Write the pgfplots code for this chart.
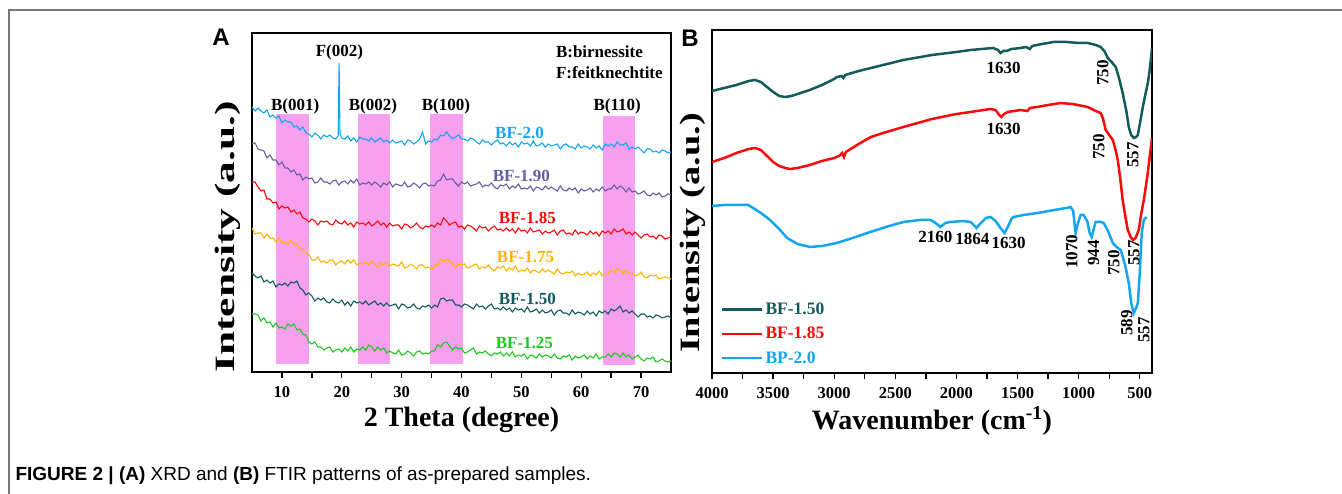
\documentclass[border=0pt]{standalone}
\usepackage{fontspec}
\setmainfont{Liberation Serif}
\newfontfamily\sansfont{Liberation Sans}
\usepackage{graphicx}
\usepackage{pgfplots}
\pgfplotsset{compat=1.18}

\definecolor{cTwo}{RGB}{20,165,240}
\definecolor{cNineteen}{RGB}{100,95,165}
\definecolor{cEightFive}{RGB}{250,10,10}
\definecolor{cSevenFive}{RGB}{255,180,0}
\definecolor{cFifty}{RGB}{20,90,90}
\definecolor{cTwentyFive}{RGB}{30,200,30}
\definecolor{bandpink}{RGB}{248,160,240}
\definecolor{framegray}{RGB}{120,120,120}

\pgfplotsset{
  panel/.style={
    scale only axis, anchor=south west,
    ytick=\empty, tick align=outside, xtick pos=left,
    major tick length=6pt, minor tick length=6pt,
    tick style={black, line width=1.3pt},
    axis line style={line width=1.6pt},
    ticklabel style={font=\bfseries\fontsize{16.5}{18}\selectfont, yshift=-5pt},
    /pgf/number format/assume math mode=true,
    /pgf/number format/1000 sep={},
    label style={font=\bfseries\fontsize{28}{30}\selectfont},
  },
}
\tikzset{fnt/.style={font=\bfseries\fontsize{17}{19}\selectfont}}

\begin{document}
\begin{tikzpicture}[x=1pt,y=1pt]
\path[use as bounding box] (0,0) rectangle (1342,494);
\draw[framegray, line width=1.3pt] (9,0) -- (9,484) -- (1342,484);
\node[anchor=base west, font=\sansfont\fontsize{19}{21}\selectfont] at (12,13)
  {\textbf{FIGURE 2 | (A)} XRD and \textbf{(B)} FTIR patterns of as-prepared samples.};
\node[font=\sansfont\bfseries\fontsize{24}{24}\selectfont] at (221,457) {A};
\node[font=\sansfont\bfseries\fontsize{24}{24}\selectfont] at (690,456) {B};

% (A) XRD
\begin{axis}[panel,
  at={(252pt,122pt)}, width=419pt, height=339pt,
  xmin=5, xmax=75, ymin=0, ymax=339,
  xtick={10,20,...,70}, minor xtick={15,25,...,65},
  xlabel={2 Theta (degree)},
  ylabel={\scalebox{1.55}[1]{Intensity (a.u.)}},
  xlabel style={at={(axis description cs:0.5,-0.142)}, anchor=center},
  ylabel style={at={(axis description cs:-0.057,0.398)}, anchor=center},
]
% highlighted reflections
\addplot[fill=bandpink, draw=none, forget plot] coordinates {(9,8)(14.5,8)(14.5,258)(9,258)} --cycle;
\addplot[fill=bandpink, draw=none, forget plot] coordinates {(22.7,8)(28.1,8)(28.1,258)(22.7,258)} --cycle;
\addplot[fill=bandpink, draw=none, forget plot] coordinates {(34.8,8)(40.2,8)(40.2,258)(34.8,258)} --cycle;
\addplot[fill=bandpink, draw=none, forget plot] coordinates {(63.6,7)(69,7)(69,256)(63.6,256)} --cycle;

% BF-2.0
\addplot[cTwo, line width=1.1pt] coordinates {
(5,265)(5.5,261)(6,264)(6.5,261)(7,259)(7.5,262)(8,255)(8.5,257)(9,254)(9.5,256)(10,249)(10.5,252)(11,250)(11.5,250)(12,245)(12.5,246)(13,242)(13.5,245)(14,239)(14.5,238)(15,235)(15.5,239)(16,237)(16.5,233)(17,237)(17.5,235)(18,237)(18.5,234)(19,233)(19.4,236)(19.55,309)(19.7,238)(20,234)(20.5,233)(21,236)(21.5,231)(22,234)(22.5,230)(23,235)(23.5,233)(24,233)(24.5,231)(25,234)(25.5,230)(26,232)(26.5,234)(27,230)(27.5,232)(28,229)(28.5,232)(29,229)(29.5,230)(30,231)(30.5,227)(31,232)(31.5,231)(32,228)(32.5,230)(33,233)(33.5,240)(34,228)(34.5,231)(35,230)(35.5,233)(36,232)(36.5,237)(37,236)(37.5,240)(38,236)(38.5,233)(39,235)(39.5,237)(40,233)(40.5,233)(41,231)(41.5,234)(42,233)(42.5,230)(43,228)(43.5,232)(44,230)(44.5,230)(45,227)(45.5,230)(46,232)(46.5,228)(47,229)(47.5,226)(48,230)(48.5,227)(49,229)(49.5,225)(50,230)(50.5,228)(51,229)(51.5,226)(52,231)(52.5,226)(53,227)(53.5,229)(54,225)(54.5,228)(55,226)(55.5,227)(56,228)(56.5,223)(57,227)(57.5,228)(58,225)(58.5,225)(59,223)(59.5,228)(60,224)(60.5,226)(61,225)(61.5,223)(62,227)(62.5,224)(63,226)(63.5,222)(64,228)(64.5,226)(65,228)(65.5,225)(66,230)(66.5,227)(67,227)(67.5,229)(68,223)(68.5,225)(69,223)(69.5,225)(70,222)(70.5,219)(71,223)(71.5,223)(72,220)(72.5,221)(73,219)(73.5,222)(74,221)(74.5,219)(75,220)
};
% BF-1.90
\addplot[cNineteen, line width=1.1pt] coordinates {
(5,228)(5.5,229)(6,223)(6.5,222)(7,221)(7.5,214)(8,217)(8.5,212)(9,212)(9.5,207)(10,210)(10.5,204)(11,204)(11.5,200)(12,202)(12.5,197)(13,198)(13.5,192)(14,195)(14.5,193)(15,194)(15.5,189)(16,190)(16.5,194)(17,190)(17.5,190)(18,188)(18.5,191)(19,192)(19.5,187)(20,190)(20.5,191)(21,188)(21.5,192)(22,189)(22.5,193)(23,187)(23.5,189)(24,188)(24.5,190)(25,187)(25.5,190)(26,188)(26.5,185)(27,189)(27.5,187)(28,190)(28.5,185)(29,188)(29.5,187)(30,186)(30.5,190)(31,185)(31.5,186)(32,189)(32.5,187)(33,184)(33.5,188)(34,189)(34.5,186)(35,187)(35.5,186)(36,191)(36.5,192)(37,198)(37.5,192)(38,193)(38.5,193)(39,189)(39.5,186)(40,190)(40.5,188)(41,190)(41.5,186)(42,187)(42.5,188)(43,190)(43.5,185)(44,187)(44.5,186)(45,189)(45.5,185)(46,183)(46.5,187)(47,186)(47.5,188)(48,183)(48.5,186)(49,184)(49.5,188)(50,183)(50.5,184)(51,183)(51.5,186)(52,181)(52.5,185)(53,184)(53.5,182)(54,186)(54.5,183)(55,185)(55.5,183)(56,181)(56.5,186)(57,182)(57.5,181)(58,184)(58.5,182)(59,184)(59.5,179)(60,183)(60.5,181)(61,182)(61.5,184)(62,180)(62.5,183)(63,181)(63.5,185)(64,181)(64.5,183)(65,183)(65.5,187)(66,183)(66.5,186)(67,184)(67.5,180)(68,184)(68.5,180)(69,181)(69.5,178)(70,179)(70.5,181)(71,177)(71.5,176)(72,179)(72.5,177)(73,179)(73.5,175)(74,176)(74.5,178)(75,177)
};
% BF-1.85
\addplot[cEightFive, line width=1.1pt] coordinates {
(5,190)(5.5,190)(6,185)(6.5,181)(7,182)(7.5,173)(8,173)(8.5,169)(9,170)(9.5,163)(10,166)(10.5,164)(11,165)(11.5,160)(12,162)(12.5,158)(13,160)(13.5,154)(14,153)(14.5,150)(15,153)(15.5,151)(16,147)(16.5,151)(17,150)(17.5,151)(18,148)(18.5,147)(19,152)(19.5,149)(20,148)(20.5,151)(21,147)(21.5,149)(22,145)(22.5,150)(23,148)(23.5,149)(24,147)(24.5,150)(25,146)(25.5,148)(26,151)(26.5,147)(27,149)(27.5,145)(28,149)(28.5,146)(29,147)(29.5,147)(30,143)(30.5,148)(31,147)(31.5,144)(32,146)(32.5,149)(33,145)(33.5,143)(34,146)(34.5,145)(35,147)(35.5,145)(36,149)(36.5,147)(37,154)(37.5,151)(38,147)(38.5,149)(39,150)(39.5,145)(40,146)(40.5,143)(41,147)(41.5,146)(42,144)(42.5,141)(43,146)(43.5,144)(44,145)(44.5,141)(45,144)(45.5,146)(46,142)(46.5,143)(47,141)(47.5,144)(48,141)(48.5,143)(49,139)(49.5,144)(50,141)(50.5,142)(51,139)(51.5,144)(52,140)(52.5,141)(53,142)(53.5,138)(54,141)(54.5,139)(55,140)(55.5,142)(56,137)(56.5,141)(57,142)(57.5,138)(58,139)(58.5,137)(59,142)(59.5,138)(60,140)(60.5,139)(61,137)(61.5,141)(62,138)(62.5,140)(63,136)(63.5,141)(64,139)(64.5,141)(65,138)(65.5,143)(66,140)(66.5,141)(67,143)(67.5,138)(68,140)(68.5,137)(69,140)(69.5,137)(70,134)(70.5,137)(71,138)(71.5,135)(72,136)(72.5,133)(73,137)(73.5,136)(74,133)(74.5,134)(75,135)
};
% BF-1.75
\addplot[cSevenFive, line width=1.1pt] coordinates {
(5,144)(5.5,138)(6,139)(6.5,139)(7,134)(7.5,138)(8,134)(8.5,134)(9,130)(9.5,134)(10,129)(10.5,130)(11,128)(11.5,132)(12,128)(12.5,128)(13,122)(13.5,123)(14,119)(14.5,118)(15,112)(15.5,112)(16,115)(16.5,110)(17,111)(17.5,109)(18,112)(18.5,112)(19,107)(19.5,110)(20,111)(20.5,108)(21,112)(21.5,109)(22,112)(22.5,107)(23,109)(23.5,108)(24,110)(24.5,107)(25,111)(25.5,108)(26,105)(26.5,109)(27,107)(27.5,110)(28,106)(28.5,108)(29,107)(29.5,106)(30,110)(30.5,104)(31,105)(31.5,108)(32,106)(32.5,103)(33,107)(33.5,107)(34,104)(34.5,105)(35,103)(35.5,107)(36,107)(36.5,113)(37,111)(37.5,112)(38,112)(38.5,108)(39,105)(39.5,108)(40,107)(40.5,108)(41,104)(41.5,105)(42,107)(42.5,108)(43,103)(43.5,105)(44,104)(44.5,107)(45,103)(45.5,101)(46,105)(46.5,104)(47,106)(47.5,101)(48,104)(48.5,102)(49,106)(49.5,100)(50,102)(50.5,101)(51,104)(51.5,99)(52,102)(52.5,101)(53,99)(53.5,103)(54,100)(54.5,102)(55,100)(55.5,98)(56,103)(56.5,99)(57,98)(57.5,100)(58,99)(58.5,101)(59,96)(59.5,99)(60,97)(60.5,98)(61,100)(61.5,96)(62,99)(62.5,97)(63,101)(63.5,96)(64,99)(64.5,98)(65,102)(65.5,99)(66,103)(66.5,102)(67,98)(67.5,102)(68,98)(68.5,99)(69,96)(69.5,97)(70,100)(70.5,95)(71,94)(71.5,97)(72,96)(72.5,97)(73,93)(73.5,94)(74,95)(74.5,94)(75,93)
};
% BF-1.50
\addplot[cFifty, line width=1.1pt] coordinates {
(5,99)(5.5,96)(6,94)(6.5,96)(7,90)(7.5,92)(8,89)(8.5,91)(9,85)(9.5,88)(10,87)(10.5,89)(11,86)(11.5,90)(12,89)(12.5,91)(13,84)(13.5,82)(14,77)(14.5,79)(15,76)(15.5,71)(16,74)(16.5,72)(17,74)(17.5,70)(18,69)(18.5,73)(19,70)(19.5,69)(20,72)(20.5,67)(21,70)(21.5,66)(22,71)(22.5,69)(23,70)(23.5,68)(24,71)(24.5,67)(25,69)(25.5,71)(26,67)(26.5,69)(27,66)(27.5,69)(28,66)(28.5,67)(29,68)(29.5,63)(30,68)(30.5,67)(31,64)(31.5,65)(32,68)(32.5,64)(33,63)(33.5,66)(34,65)(34.5,67)(35,64)(35.5,67)(36,65)(36.5,73)(37,74)(37.5,71)(38,72)(38.5,72)(39,67)(39.5,67)(40,65)(40.5,68)(41,67)(41.5,65)(42,63)(42.5,68)(43,65)(43.5,66)(44,63)(44.5,66)(45,68)(45.5,63)(46,64)(46.5,62)(47,65)(47.5,62)(48,64)(48.5,60)(49,64)(49.5,62)(50,63)(50.5,60)(51,65)(51.5,60)(52,61)(52.5,63)(53,59)(53.5,62)(54,59)(54.5,60)(55,62)(55.5,57)(56,61)(56.5,62)(57,59)(57.5,59)(58,57)(58.5,62)(59,58)(59.5,60)(60,59)(60.5,57)(61,61)(61.5,58)(62,60)(62.5,56)(63,61)(63.5,59)(64,61)(64.5,58)(65,63)(65.5,61)(66,63)(66.5,66)(67,60)(67.5,62)(68,59)(68.5,61)(69,58)(69.5,55)(70,58)(70.5,58)(71,55)(71.5,56)(72,54)(72.5,57)(73,56)(73.5,54)(74,55)(74.5,56)(75,54)
};
% BF-1.25
\addplot[cTwentyFive, line width=1.1pt] coordinates {
(5,58)(5.5,58)(6,57)(6.5,51)(7,54)(7.5,49)(8,50)(8.5,45)(9,49)(9.5,44)(10,45)(10.5,43)(11,48)(11.5,46)(12,48)(12.5,42)(13,43)(13.5,38)(14,37)(14.5,30)(15,28)(15.5,30)(16,25)(16.5,25)(17,22)(17.5,24)(18,25)(18.5,20)(19,22)(19.5,23)(20,20)(20.5,24)(21,21)(21.5,25)(22,20)(22.5,23)(23,22)(23.5,25)(24,22)(24.5,27)(25,25)(25.5,21)(26,25)(26.5,22)(27,24)(27.5,19)(28,21)(28.5,19)(29,18)(29.5,22)(30,17)(30.5,18)(31,21)(31.5,19)(32,16)(32.5,20)(33,21)(33.5,18)(34,19)(34.5,18)(35,21)(35.5,21)(36,27)(36.5,25)(37,29)(37.5,30)(38,26)(38.5,22)(39,25)(39.5,23)(40,24)(40.5,19)(41,20)(41.5,22)(42,24)(42.5,18)(43,20)(43.5,19)(44,21)(44.5,18)(45,16)(45.5,19)(46,18)(46.5,20)(47,16)(47.5,19)(48,16)(48.5,20)(49,15)(49.5,17)(50,16)(50.5,18)(51,13)(51.5,17)(52,16)(52.5,14)(53,18)(53.5,15)(54,17)(54.5,16)(55,14)(55.5,18)(56,14)(56.5,13)(57,16)(57.5,15)(58,17)(58.5,12)(59,16)(59.5,14)(60,15)(60.5,17)(61,13)(61.5,16)(62,14)(62.5,18)(63,13)(63.5,15)(64,15)(64.5,18)(65,15)(65.5,19)(66,18)(66.5,15)(67,19)(67.5,15)(68,17)(68.5,13)(69,15)(69.5,17)(70,13)(70.5,11)(71,14)(71.5,13)(72,15)(72.5,10)(73,11)(73.5,13)(74,11)(74.5,10)(75,11)
};

\node[fnt] at (axis cs:19.6,320) {F(002)};
\node[fnt, anchor=west] at (axis cs:55.2,320) {B:birnessite};
\node[fnt, anchor=west] at (axis cs:55.2,299) {F:feitknechtite};
\node[fnt] at (axis cs:12.2,266) {B(001)};
\node[fnt] at (axis cs:25.2,266) {B(002)};
\node[fnt] at (axis cs:37.4,266) {B(100)};
\node[fnt] at (axis cs:66,266) {B(110)};
\node[fnt, text=cTwo] at (axis cs:49.7,239) {BF-2.0};
\node[fnt, text=cNineteen] at (axis cs:50,196) {BF-1.90};
\node[fnt, text=cEightFive] at (axis cs:51,154) {BF-1.85};
\node[fnt, text=cSevenFive] at (axis cs:50.7,115) {BF-1.75};
\node[fnt, text=cFifty] at (axis cs:51,73) {BF-1.50};
\node[fnt, text=cTwentyFive] at (axis cs:50.5,29) {BF-1.25};
\end{axis}

% (B) FTIR
\begin{axis}[panel,
  at={(712pt,121pt)}, width=440pt, height=343pt,
  x dir=reverse, xmin=400, xmax=4000, ymin=0, ymax=343,
  xtick={500,1000,...,4000}, minor xtick={750,1250,...,3750},
  xlabel={Wavenumber (cm\textsuperscript{-1})},
  ylabel={\scalebox{1.37}[1]{Intensity (a.u.)}},
  xlabel style={at={(axis description cs:0.5,-0.14)}, anchor=center},
  ylabel style={at={(axis description cs:-0.043,0.408)}, anchor=center},
  legend style={draw=none, fill=none, at={(0.02,0.21)}, anchor=north west,
    font=\bfseries\fontsize{17.5}{19}\selectfont, row sep=7pt, inner sep=0pt},
  legend cell align=left,
  legend image code/.code={\draw[#1] (0pt,0pt) -- (40pt,0pt);},
]
\addplot[cFifty, line width=2.5pt] coordinates {
(4000,282)(3900,285)(3800,288)(3700,292)(3648,293)(3600,291)(3550,286)(3500,281)(3450,277)(3400,276)(3350,277)(3300,279)(3200,283)(3100,288)(3000,294)(2978,296)(2940,297)(2925,295)(2910,298)(2800,302)(2600,308)(2434,313)(2200,318)(2000,321)(1885,323)(1700,325)(1660,323)(1640,320)(1615,322)(1590,322)(1550,324)(1475,325)(1430,326)(1400,324)(1380,327)(1300,329)(1205,331)(1100,331)(1000,330)(926,330)(860,328)(820,326)(790,322)(762,315)(730,311)(697,306)(670,295)(640,280)(610,262)(590,246)(570,238)(549,235)(530,236)(516,238)(495,252)(475,266)(455,278)(434,290)(420,302)(410,313)(400,325)
};
\addlegendentry{\textcolor{cFifty}{BF-1.50}}
\addplot[cEightFive, line width=2.5pt] coordinates {
(4000,211)(3900,215)(3800,220)(3700,224)(3648,225)(3600,223)(3550,217)(3500,211)(3450,207)(3400,205)(3361,204)(3300,205)(3200,208)(3100,212)(3000,215)(2960,217)(2935,220)(2920,216)(2905,221)(2800,229)(2700,236)(2600,240)(2434,246)(2200,254)(2000,259)(1885,261)(1722,264)(1680,263)(1650,258)(1633,256)(1610,259)(1580,261)(1475,263)(1420,262)(1400,265)(1339,266)(1250,268)(1148,270)(1050,269)(926,266)(860,262)(820,260)(800,254)(779,243)(750,238)(721,233)(700,224)(680,213)(660,195)(640,173)(620,158)(598,143)(575,136)(555,133)(535,135)(508,143)(490,158)(467,173)(440,195)(420,215)(400,235)
};
\addlegendentry{\textcolor{cEightFive}{BF-1.85}}
\addplot[cTwo, line width=2.5pt] coordinates {
(4000,167)(3900,168)(3800,168)(3705,168)(3650,164)(3600,160)(3525,153)(3450,144)(3385,135)(3300,129)(3197,126)(3100,127)(2980,130)(2850,135)(2705,141)(2550,147)(2434,151)(2300,153)(2213,153)(2170,150)(2131,146)(2090,150)(2050,151)(1950,152)(1885,151)(1860,148)(1836,145)(1800,150)(1760,155)(1721,156)(1680,152)(1640,145)(1606,140)(1580,146)(1550,154)(1533,156)(1450,158)(1336,160)(1200,163)(1100,165)(1066,166)(1045,162)(1025,140)(1005,150)(984,158)(960,158)(930,152)(910,140)(893,136)(875,145)(861,151)(820,151)(795,150)(760,142)(721,130)(690,126)(656,123)(620,108)(590,90)(570,70)(549,60)(530,65)(516,70)(500,100)(484,140)(467,153)(445,156)
};
\addlegendentry{\textcolor{cTwo}{BP-2.0}}

\node[fnt] at (axis cs:1615,305) {1630};
\node[fnt, rotate=90] at (axis cs:803,300) {750};
\node[fnt, rotate=90] at (axis cs:557,218) {557};
\node[fnt] at (axis cs:1615,244) {1630};
\node[fnt, rotate=90] at (axis cs:836,226) {750};
\node[fnt, rotate=90] at (axis cs:549,120) {557};
\node[fnt] at (axis cs:2172,136) {2160};
\node[fnt] at (axis cs:1869,134) {1864};
\node[fnt] at (axis cs:1574,130) {1630};
\node[fnt, rotate=90] at (axis cs:1057,121) {1070};
\node[fnt, rotate=90] at (axis cs:877,120) {944};
\node[fnt, rotate=90] at (axis cs:713,110) {750};
\node[fnt, rotate=90] at (axis cs:607,50) {589};
\node[fnt, rotate=90] at (axis cs:467,43) {557};
\end{axis}
\end{tikzpicture}
\end{document}
